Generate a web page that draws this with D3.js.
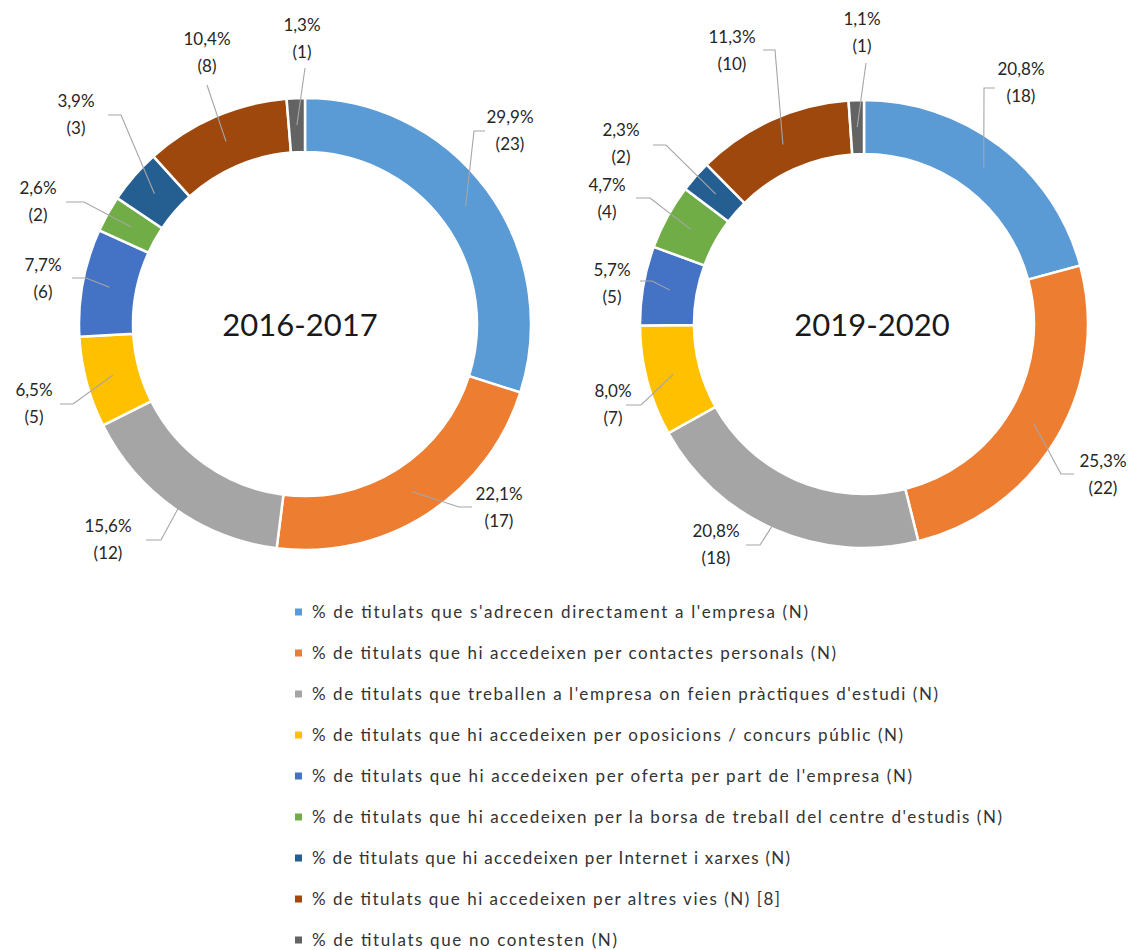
<!DOCTYPE html>
<html>
<head>
<meta charset="utf-8">
<script src="https://cdn.jsdelivr.net/npm/d3@7"></script>
<style>
  html, body { margin: 0; padding: 0; background: #fff; }
  svg { display: block; }
</style>
</head>
<body>
<script>
// ---------------- DATA ----------------
const categories = [
  "% de titulats que s'adrecen directament a l'empresa (N)",
  "% de titulats que hi accedeixen per contactes personals (N)",
  "% de titulats que treballen a l'empresa on feien pràctiques d'estudi (N)",
  "% de titulats que hi accedeixen per oposicions / concurs públic (N)",
  "% de titulats que hi accedeixen per oferta per part de l'empresa (N)",
  "% de titulats que hi accedeixen per la borsa de treball del centre d'estudis (N)",
  "% de titulats que hi accedeixen per Internet i xarxes (N)",
  "% de titulats que hi accedeixen per altres vies (N) [8]",
  "% de titulats que no contesten (N)"
];
const periods = ["2016-2017", "2019-2020"];
const pct2016 = [29.9, 22.1, 15.6, 6.5, 7.7, 2.6, 3.9, 10.4, 1.3];
const n2016   = [23, 17, 12, 5, 6, 2, 3, 8, 1];
const pct2019 = [20.8, 25.3, 20.8, 8.0, 5.7, 4.7, 2.3, 11.3, 1.1];
const n2019   = [18, 22, 18, 7, 5, 4, 2, 10, 1];

// ---------------- STYLE / LAYOUT ----------------
const colors = ["#5B9BD5", "#ED7D31", "#A5A5A5", "#FFC000", "#4472C4",
                "#70AD47", "#255E91", "#9E480E", "#636363"];
const W = 1135, H = 950;

const donuts = [
  { cx: 305, cy: 324, r: 226, ri: 172, titleX: 300, titleY: 325,
    // label text centre x, first-line centre y, leader points after the slice centroid
    labels: [
      { x: 510, y: 117, pts: [[474,131],[485,131]] },
      { x: 499, y: 494, pts: [[459,507],[472,507]] },
      { x: 108, y: 526, pts: [[161,540],[146,540]] },
      { x: 34,  y: 390, pts: [[73,404],[60,404]] },
      { x: 43,  y: 265, pts: [[86,278],[72,278]] },
      { x: 38,  y: 188, pts: [[84,202],[66,202]] },
      { x: 76,  y: 101, pts: [[121,115],[108,115]] },
      { x: 207, y: 39,  pts: [[207,85]] },
      { x: 302, y: 25,  pts: [[305,68]] }
    ] },
  { cx: 864, cy: 324, r: 224, ri: 170, titleX: 872, titleY: 325,
    labels: [
      { x: 1021, y: 69,  pts: [[984,88],[995,88]] },
      { x: 1103, y: 461, pts: [[1061,474],[1074,474]] },
      { x: 716,  y: 531, pts: [[760,545],[746,545]] },
      { x: 613,  y: 391, pts: [[641,405],[626,405]] },
      { x: 612,  y: 270, pts: [[652,281],[640,281]] },
      { x: 607,  y: 185, pts: [[650,198],[636,198]] },
      { x: 621,  y: 130, pts: [[666,145],[653,145]] },
      { x: 732,  y: 37,  pts: [[775,50],[763,50]] },
      { x: 862,  y: 19,  pts: [[866,63]] }
    ] }
];
const legendEnds = [808, 836, 938, 903, 912, 1002, 790, 780, 617];

const pctData = [pct2016, pct2019];
const nData = [n2016, n2019];
const fmt = v => d3.format(".1f")(v).replace(".", ",") + "%";

const svg = d3.select("body").append("svg")
  .attr("width", W).attr("height", H)
  .style("font-family", "Lato, 'Open Sans', sans-serif");

const pie = d3.pie().sort(null).value(d => d.pct);

donuts.forEach((cfg, k) => {
  const data = categories.map((c, i) => ({ cat: c, i, pct: pctData[k][i], n: nData[k][i] }));
  const arcs = pie(data);
  const arc = d3.arc().innerRadius(cfg.ri).outerRadius(cfg.r);
  const mid = d3.arc().innerRadius((cfg.ri + cfg.r) / 2).outerRadius((cfg.ri + cfg.r) / 2);

  const g = svg.append("g").attr("transform", `translate(${cfg.cx},${cfg.cy})`);
  g.selectAll("path.slice").data(arcs).join("path")
    .attr("class", "slice")
    .attr("d", arc)
    .attr("fill", d => colors[d.data.i])
    .attr("stroke", "#fff")
    .attr("stroke-width", 2.5)
    .attr("stroke-linejoin", "miter");

  // leader lines
  const line = d3.line();
  svg.append("g").selectAll("path").data(arcs).join("path")
    .attr("d", d => {
      const c = mid.centroid(d);
      const start = [cfg.cx + c[0], cfg.cy + c[1]];
      return line([start, ...cfg.labels[d.data.i].pts]);
    })
    .attr("fill", "none")
    .attr("stroke", "#a6a6a6")
    .attr("stroke-width", 1.1);

  // labels
  const lg = svg.append("g").selectAll("text").data(arcs).join("text")
    .attr("text-anchor", "middle")
    .attr("fill", "#262626")
    .style("font-size", "17px");
  lg.append("tspan")
    .attr("x", d => cfg.labels[d.data.i].x)
    .attr("y", d => cfg.labels[d.data.i].y)
    .attr("dy", "0.36em")
    .text(d => fmt(d.data.pct));
  lg.append("tspan")
    .attr("x", d => cfg.labels[d.data.i].x)
    .attr("y", d => cfg.labels[d.data.i].y + 27)
    .attr("dy", "0.36em")
    .text(d => `(${d.data.n})`);

  // title
  svg.append("text")
    .attr("x", cfg.titleX).attr("y", cfg.titleY)
    .attr("dy", "0.36em")
    .attr("text-anchor", "middle")
    .attr("fill", "#1a1a1a")
    .style("font-size", "31px")
    .text(periods[k]);
});

// legend
const leg = svg.append("g");
const rowY = i => 612 + i * 41;
categories.forEach((c, i) => {
  leg.append("rect")
    .attr("x", 295).attr("y", rowY(i) - 3.5)
    .attr("width", 7).attr("height", 7)
    .attr("fill", colors[i]);
  leg.append("text")
    .attr("x", 312).attr("y", rowY(i))
    .attr("dy", "0.36em")
    .attr("fill", "#333333")
    .attr("textLength", legendEnds[i] - 312)
    .attr("lengthAdjust", "spacing")
    .style("font-size", "17px")
    .text(c);
});
</script>
</body>
</html>
